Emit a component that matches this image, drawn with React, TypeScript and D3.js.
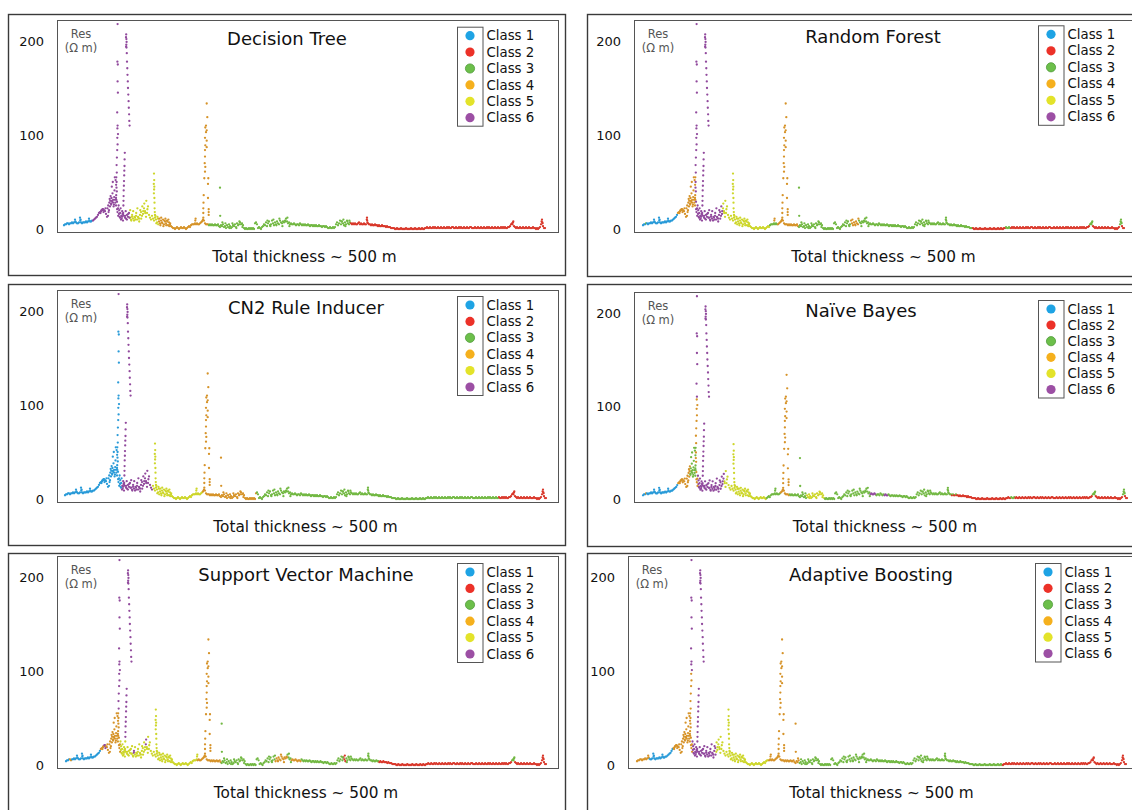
import React from "react";
import * as d3 from "d3";

// ---------- data ----------
const classNames = ["Class 1", "Class 2", "Class 3", "Class 4", "Class 5", "Class 6"];
const modelNames = ["Decision Tree", "Random Forest", "CN2 Rule Inducer", "Naïve Bayes", "Support Vector Machine", "Adaptive Boosting"];
const yTicks = [0, 100, 200];
const xAxisLabel = "Total thickness ~ 500 m";
const depthMax = 481;

// resistivity log (Ω m), one sample per depth unit from the top
const resLog = [
  4, 5, 5, 6, 6, 5, 6, 6, 7, 6,
  7, 10, 7, 6, 6, 7, 12, 7, 6, 7,
  7, 7, 8, 7, 8, 11, 8, 8, 9, 9,
  10, 11, 12, 13, 15, 17, 18, 19, 20, 21,
  20, 19, 16, 13, 14, 20, 24, 27, 30, 28,
  26, 31, 33, 29, 22, 16, 12, 10, 13, 15,
  14, 12, 11, 15, 13, 17, 12, 10, 13, 11,
  9, 12, 14, 10, 13, 11, 15, 18, 14, 16,
  22, 19, 13, 17, 24, 15, 12, 10, 14, 11,
  9, 12, 10, 7, 11, 8, 6, 9, 7, 10,
  5, 8, 6, 9, 4, 7, 5, 3, 2, 1,
  1, 0, 1, 2, 1, 0, 1, 2, 1, 1,
  2, 1, 0, 1, 2, 3, 2, 4, 5, 5,
  5, 6, 5, 6, 5, 5, 6, 7, 8, 10,
  9, 6, 5, 5, 5, 4, 5, 4, 5, 4,
  4, 5, 4, 4, 5, 3, 2, 4, 3, 5,
  2, 3, 1, 4, 2, 5, 3, 1, 2, 4,
  3, 5, 2, 6, 4, 5, 7, 5, 6, 4,
  1, 0, 1, 0, 0, 1, 0, 1, 0, 1,
  0, 6, 7, 5, 1, 2, 1, 0, 2, 3,
  5, 4, 7, 3, 6, 8, 4, 5, 9, 6,
  4, 7, 5, 8, 6, 5, 9, 7, 6, 8,
  7, 9, 11, 8, 6, 7, 5, 6, 5, 5,
  6, 5, 4, 5, 5, 4, 6, 5, 4, 5,
  4, 5, 4, 4, 5, 4, 3, 4, 4, 3,
  4, 3, 4, 3, 3, 4, 3, 3, 2, 3,
  3, 2, 3, 2, 1, 1, 2, 1, 1, 2,
  1, 2, 5, 7, 4, 6, 9, 5, 8, 6,
  4, 7, 5, 9, 6, 5, 7, 6, 5, 6,
  5, 6, 5, 5, 6, 7, 5, 6, 5, 5,
  6, 5, 5, 12, 6, 5, 5, 4, 5, 4,
  4, 5, 4, 4, 3, 4, 3, 3, 4, 3,
  3, 3, 2, 3, 2, 2, 2, 1, 1, 1,
  1, 0, 0, 1, 0, 0, 0, 1, 0, 0,
  0, 0, 1, 0, 0, 0, 0, 1, 0, 0,
  0, 1, 0, 0, 0, 1, 0, 0, 1, 0,
  0, 1, 1, 2, 1, 1, 2, 1, 1, 2,
  1, 2, 1, 1, 2, 1, 1, 2, 1, 1,
  2, 1, 1, 2, 1, 2, 1, 1, 2, 2,
  1, 1, 2, 1, 1, 2, 1, 2, 1, 1,
  2, 1, 1, 2, 1, 1, 2, 2, 1, 1,
  1, 2, 1, 1, 2, 1, 1, 2, 1, 1,
  2, 1, 1, 2, 1, 2, 1, 1, 2, 1,
  1, 2, 1, 1, 2, 1, 1, 2, 1, 2,
  1, 2, 1, 1, 2, 2, 3, 5, 6, 7,
  3, 2, 1, 2, 1, 1, 2, 1, 1, 2,
  1, 1, 2, 1, 1, 2, 1, 1, 1, 2,
  1, 1, 0, 1, 0, 1, 2, 5, 10, 3,
  1, 1,
];

// extra samples in thin resistive beds and noisy intervals: [depth, res]
const extraSamples: [number, number][] = [
  [11.3, 8], [16.3, 9], [16.6, 10], [25.3, 9],
  [36.5, 17], [37.5, 20], [38.5, 21], [39.5, 18], [41.5, 22],
  [43.5, 22], [44.2, 25], [44.6, 18], [45.3, 28], [45.7, 32], [46.2, 30], [46.6, 35], [47.2, 26], [47.5, 33], [47.8, 45],
  [48.2, 29], [48.5, 38], [48.8, 50], [49.2, 31], [49.6, 24], [50.2, 34], [50.5, 41], [50.8, 55], [51.3, 28], [51.6, 52],
  [52.0, 25], [52.3, 31], [53.1, 21], [53.5, 18], [54.2, 14], [54.6, 25], [55.2, 20], [55.6, 13], [56.2, 17], [56.6, 22],
  [57.3, 14], [58.2, 19],
  // first thin bed
  [53.6, 218], [53.4, 178], [53.8, 175], [53.6, 157], [53.9, 145], [53.2, 124], [53.6, 110], [53.4, 107], [54.0, 101],
  [53.3, 97], [53.6, 90], [53.2, 84], [52.9, 76], [52.6, 68], [52.8, 60], [52.3, 55], [52.6, 50], [52.1, 47], [52.5, 44],
  [52.8, 40], [52.2, 36],
  [60.8, 81], [60.6, 74], [60.5, 67], [60.3, 62], [60.2, 57], [60.0, 51], [59.9, 46], [59.7, 41], [59.6, 35], [59.5, 30],
  [59.4, 25], [59.2, 17],
  [62.2, 207], [62.0, 204], [62.4, 202], [62.6, 199], [62.3, 196], [62.1, 194], [62.5, 193], [62.8, 187], [63.0, 178],
  [63.3, 171], [63.5, 164], [63.8, 157], [64.0, 150], [64.3, 143], [64.6, 136], [64.8, 129], [65.1, 122], [65.3, 115], [65.6, 110],
  [57.7, 11], [58.6, 16], [59.0, 9], [61.2, 14], [61.7, 19], [62.9, 10], [64.2, 16], [65.4, 12], [66.2, 20],
  [67.3, 9], [68.1, 15], [69.2, 19], [70.4, 13], [71.3, 10], [72.2, 17], [73.4, 22], [74.3, 12], [75.2, 8], [76.3, 20],
  [77.2, 11], [78.3, 24], [79.2, 19], [80.3, 27], [81.2, 17], [82.3, 30], [83.4, 21],
  [90.0, 59], [90.2, 52], [89.8, 48], [90.3, 45], [90.1, 42], [89.9, 38], [90.4, 33], [90.5, 28], [90.6, 22], [90.8, 18], [91.0, 15],
  [91.4, 14], [92.3, 6], [93.4, 13], [94.2, 5], [95.3, 11], [96.4, 4], [97.2, 12], [98.3, 6], [99.4, 3], [100.3, 9],
  [101.4, 11], [102.2, 4], [103.3, 8], [104.4, 10], [105.3, 3], [106.2, 6],
  [131.3, 9], [131.6, 11],
  // second thin bed
  [142.7, 133.5], [143.3, 119], [142.0, 110], [141.3, 108], [142.7, 105], [142.0, 103], [141.0, 97], [142.7, 94], [141.3, 89],
  [142.7, 87], [141.0, 84], [141.0, 77], [140.7, 70], [141.3, 66], [141.0, 61], [140.3, 54], [144.3, 54], [144.0, 48],
  [139.7, 36], [144.0, 33], [139.5, 28], [139.3, 22], [144.7, 21], [144.7, 18], [144.7, 15], [139.3, 17], [139.3, 12], [138.7, 9],
  [156.0, 44], [156.2, 14],
  [158.4, 7], [161.4, 6], [165.4, 1], [168.4, 6], [172.4, 1], [175.4, 8], [178.4, 2],
  [203.4, 9], [206.4, 3], [209.4, 10], [212.4, 4], [215.4, 11], [218.4, 3], [221.4, 8], [223.4, 12], [225.4, 3],
  [277.4, 8], [279.4, 10], [281.4, 3], [283.4, 8], [285.4, 9],
  [303.2, 9], [303.4, 7], [302.8, 10],
  [448.5, 5], [449.3, 8],
  [477.6, 8], [478.3, 7], [478.6, 6],
];

// predicted class intervals per model: [depthFrom, depthTo, class]
const dtIntervals: [number, number, number][] = [
  [0, 29, 1], [29, 66, 6], [66, 95, 5], [95, 145, 4], [145, 287, 3], [287, 482, 2],
];
const rfIntervals: [number, number, number][] = [
  [0, 35, 1], [35, 52.5, 4], [52.5, 81, 6], [81, 127, 5], [127, 135, 3], [135, 155.5, 4], [155.5, 208, 3],
  [208, 216, 4], [216, 330, 3], [330, 482, 2],
];
const cn2Intervals: [number, number, number][] = [
  [0, 57, 1], [57, 88, 6], [88, 138, 5], [138, 192, 4], [192, 434, 3], [434, 482, 2],
];
const nbIntervals: [number, number, number][] = [
  [0, 35, 1], [35, 47, 4], [47, 52.5, 3], [52.5, 54.5, 4], [54.5, 81, 6], [81, 123, 5], [123, 137, 3], [137, 146, 4],
  [146, 163, 3], [163, 181, 5], [181, 226, 3], [226, 232, 6], [232, 240, 3], [240, 244, 6], [244, 303, 3], [303, 482, 2],
];
const svmIntervals: [number, number, number][] = [
  [0, 35, 1], [35, 54.5, 4], [54.5, 132, 5], [132, 155.5, 4], [155.5, 210, 3], [210, 222, 4], [222, 226, 3],
  [226, 236, 4], [236, 278, 3], [278, 281, 2], [281, 314, 3], [314, 482, 2],
];
const adaIntervals: [number, number, number][] = [
  [0, 12, 4], [12, 36, 1], [36, 54.5, 4], [54.5, 78, 6], [78, 130, 5], [130, 160, 4], [160, 360, 3], [360, 482, 2],
];

// value-dependent exceptions: [depthFrom, depthTo, resMin, resMax, class]
const dtExceptions: [number, number, number, number, number][] = [];
const rfExceptions: [number, number, number, number, number][] = [
  [2.5, 4, 0, 300, 3], [79, 84, 20, 40, 5], [131, 132, 7, 20, 4], [363, 368, 0, 300, 3], [446, 451, 4, 300, 3], [476, 480, 4, 300, 3],
];
const cn2Exceptions: [number, number, number, number, number][] = [
  [52, 55, 190, 300, 6],
];
const nbExceptions: [number, number, number, number, number][] = [
  [2.5, 4, 0, 300, 4], [42, 52.5, 36, 300, 3], [52.5, 54.5, 110, 300, 6], [303, 330, 5, 300, 3], [366, 370, 0, 300, 3],
  [446, 451, 4, 300, 3], [476, 480, 4, 300, 3],
];
const svmExceptions: [number, number, number, number, number][] = [
  [4, 6, 0, 300, 4], [38, 40, 15, 25, 6], [52.5, 54.5, 60, 300, 6], [59.1, 66, 28, 300, 6], [67.5, 68.5, 0, 300, 6],
  [80, 81, 0, 300, 6], [446, 451, 4, 300, 3],
];
const adaExceptions: [number, number, number, number, number][] = [
  [52.5, 54.5, 100, 300, 6],
];

const modelIntervals = [dtIntervals, rfIntervals, cn2Intervals, nbIntervals, svmIntervals, adaIntervals];
const modelExceptions = [dtExceptions, rfExceptions, cn2Exceptions, nbExceptions, svmExceptions, adaExceptions];

// ---------- styling / layout ----------
const legendColors = ["#1ea3e4", "#ec3128", "#6cbf4a", "#f5b01d", "#e3e32a", "#9c4fa4"];
const pointColors = ["#2a9bd8", "#d9382b", "#72b843", "#d69329", "#cdd62a", "#914a9d"];
const FONT = "'DejaVu Sans', Verdana, sans-serif";

const panelLayout = [
  { ox: 8, oy: 14, ow: 557, oh: 261, il: 57, ir: 558, x0: 64, x1: 545, y0: 229, y200: 41, tx: 287, ty: 39, lx: 457, ly: 35.7, ls: 16.4 },
  { ox: 587, oy: 14, ow: 560, oh: 262, il: 634, ir: 1140, x0: 643, x1: 1124, y0: 229, y200: 41, tx: 873, ty: 37, lx: 1038, ly: 34.3, ls: 16.5 },
  { ox: 8, oy: 284, ow: 557, oh: 261, il: 57, ir: 558, x0: 65, x1: 546, y0: 499, y200: 311, tx: 306, ty: 308, lx: 457, ly: 305, ls: 16.4 },
  { ox: 587, oy: 284, ow: 560, oh: 262, il: 634, ir: 1140, x0: 643, x1: 1127, y0: 499, y200: 313, tx: 861, ty: 311, lx: 1038, ly: 309, ls: 16.1 },
  { ox: 8, oy: 553, ow: 557, oh: 270, il: 57, ir: 558, x0: 66, x1: 546, y0: 765, y200: 577, tx: 306, ty: 575, lx: 457, ly: 572, ls: 16.4 },
  { ox: 587, oy: 553, ow: 560, oh: 270, il: 628, ir: 1140, x0: 637, x1: 1126, y0: 765, y200: 577, tx: 871, ty: 575, lx: 1035, ly: 572, ls: 16.3 },
];

type Sample = { d: number; v: number };
const samples: Sample[] = [
  ...resLog.map((v, i) => ({ d: i, v })),
  ...extraSamples.map(([d, v]) => ({ d, v })),
];

function classOf(m: number, d: number, v: number): number {
  let c = 3;
  for (const [a, b, k] of modelIntervals[m]) if (d >= a && d < b) c = k;
  for (const [a, b, lo, hi, k] of modelExceptions[m]) if (d >= a && d < b && v >= lo && v <= hi) c = k;
  return c;
}

function Panel({ m }: { m: number }) {
  const L = panelLayout[m];
  const x = d3.scaleLinear().domain([0, depthMax]).range([L.x0, L.x1]);
  const y = d3.scaleLinear().domain([0, 200]).range([L.y0, L.y200]);
  const it = L.y200 - 21;
  const ib = L.y0 + 3;
  const clipId = `clip${m}`;
  return (
    <g>
      <rect x={L.ox + 0.5} y={L.oy + 0.5} width={L.ow} height={L.oh} fill="#fff" stroke="#3a3a3a" strokeWidth={1.4} />
      <clipPath id={clipId}>
        <rect x={L.il} y={it} width={L.ir - L.il} height={ib - it} />
      </clipPath>
      <rect x={L.il + 0.5} y={it + 0.5} width={L.ir - L.il} height={ib - it} fill="#fff" stroke="#555" strokeWidth={1} />
      {yTicks.map((t) => (
        <text key={t} x={L.il - 13} y={y(t)} dy="0.36em" textAnchor="end" fontSize={13} fontFamily={FONT} fill="#111">
          {t}
        </text>
      ))}
      <text x={L.il + 24} y={L.y200 - 3} textAnchor="middle" fontSize={11.5} fontFamily={FONT} fill="#555">Res</text>
      <text x={L.il + 24} y={L.y200 + 11} textAnchor="middle" fontSize={11.5} fontFamily={FONT} fill="#555">(Ω m)</text>
      <text x={L.tx} y={L.ty + 6} textAnchor="middle" fontSize={18} fontFamily={FONT} fill="#111">
        {modelNames[m]}
      </text>
      <g clipPath={`url(#${clipId})`}>
        {samples.map((s, i) => {
          const c = classOf(m, s.d, s.v);
          return <circle key={i} cx={x(s.d)} cy={y(s.v)} r={1.15} fill={pointColors[c - 1]} />;
        })}
      </g>
      <rect x={L.lx + 0.5} y={L.ly - 8.5} width={25.5} height={L.ls * 5 + 17} fill="none" stroke="#555" strokeWidth={1} />
      {classNames.map((n, i) => (
        <g key={n}>
          <circle cx={L.lx + 13} cy={L.ly + i * L.ls} r={4.6} fill={legendColors[i]} stroke={i === 2 ? "#4f9a3a" : "none"} strokeWidth={0.8} />
          <text x={L.lx + 29.5} y={L.ly + i * L.ls + 4.6} fontSize={13.3} fontFamily={FONT} fill="#111">{n}</text>
        </g>
      ))}
      <text x={(L.x0 + L.x1) / 2} y={L.y0 + 33} textAnchor="middle" fontSize={15.3} fontFamily={FONT} fill="#111">
        {xAxisLabel}
      </text>
    </g>
  );
}

export default function App() {
  return (
    <svg width={1132} height={810} style={{ position: "absolute", left: 0, top: 0, background: "#fff" }}>
      <rect x={0} y={0} width={1132} height={810} fill="#fff" />
      {modelNames.map((_, m) => (
        <Panel key={m} m={m} />
      ))}
    </svg>
  );
}
